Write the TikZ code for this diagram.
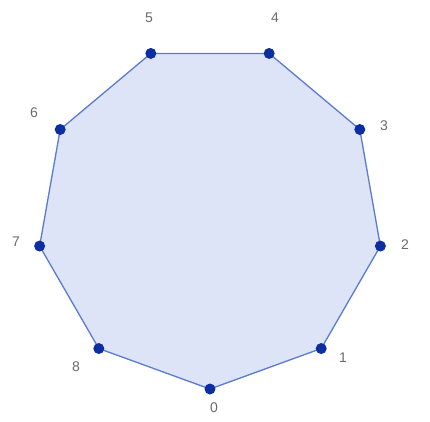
\documentclass[tikz,border=0pt]{standalone}
\usepackage{fontspec}
\setmainfont{Liberation Sans}
\definecolor{polyfill}{HTML}{DDE4F7}
\definecolor{polyedge}{HTML}{5A7BD0}
\definecolor{dotcol}{HTML}{0D2EA0}
\definecolor{labcol}{HTML}{6A6A6A}
\begin{document}
\begin{tikzpicture}[x=1pt,y=-1pt,
  vert/.style={circle,fill=dotcol,inner sep=0pt,minimum size=11pt},
  lab/.style={text=labcol,font=\fontsize{14}{14}\selectfont,inner sep=0pt}]
\useasboundingbox (0,0) rectangle (430,421);
\foreach \i in {0,...,8}{
  \coordinate (p\i) at ({210+173*cos(-90+40*\i)},{216-173*sin(-90+40*\i)});
}
\fill[polyfill] (p0)--(p1)--(p2)--(p3)--(p4)--(p5)--(p6)--(p7)--(p8)--cycle;
\draw[polyedge,line width=1.3pt,line join=round] (p0)--(p1)--(p2)--(p3)--(p4)--(p5)--(p6)--(p7)--(p8)--cycle;
\foreach \i in {0,...,8}{ \node[vert] (v\i) at (p\i) {}; }
\node[lab] (l0) at (214,408) {0};
\node[lab] (l1) at (343,358) {1};
\node[lab] (l2) at (405,245) {2};
\node[lab] (l3) at (384,126) {3};
\node[lab] (l4) at (275,18) {4};
\node[lab] (l5) at (149,18) {5};
\node[lab] (l6) at (34,113) {6};
\node[lab] (l7) at (16,242) {7};
\node[lab] (l8) at (76,367) {8};
\end{tikzpicture}
\end{document}
